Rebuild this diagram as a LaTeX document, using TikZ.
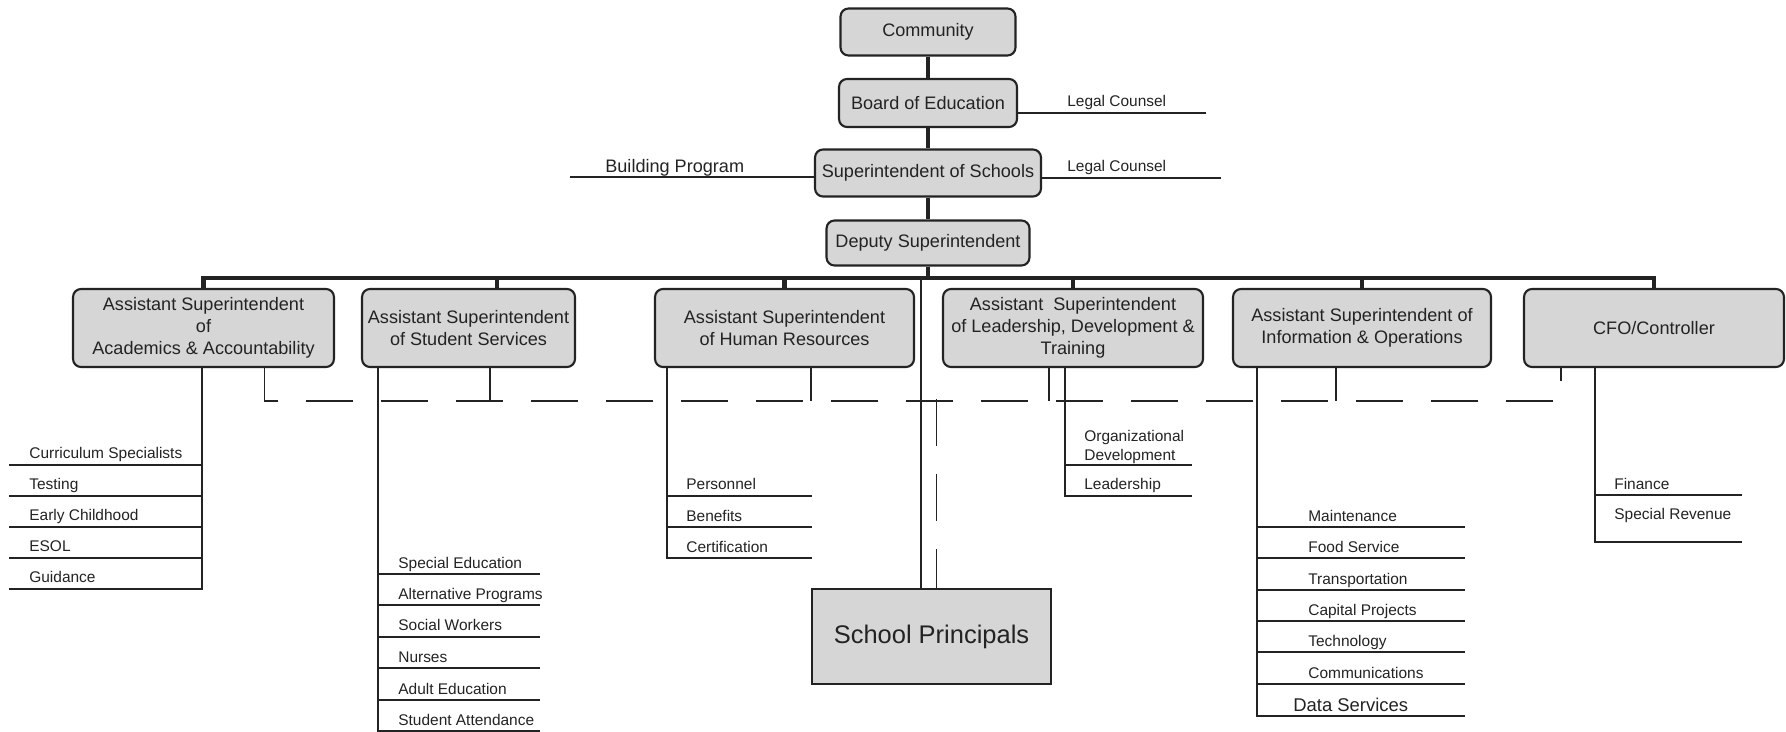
\documentclass[tikz,border=0pt]{standalone}
\usepackage{fontspec}
\setmainfont{Liberation Sans}
\usetikzlibrary{calc}
\definecolor{orgink}{RGB}{35,35,35}
\definecolor{orgfill}{RGB}{214,214,214}

\begin{document}
\begin{tikzpicture}[
    x=0.02cm, y=-0.02cm,
    every node/.style={text=orgink},
    box/.style={draw=orgink, line width=1.2pt, rounded corners=1.6mm, fill=orgfill, align=center, inner sep=0pt, font=\fontsize{10.3}{12.4}\selectfont},
    asst/.style={box, minimum height=1.56cm},
    item/.style={anchor=west, inner sep=0pt, align=left, text height=0.72em, text depth=0pt, font=\fontsize{8.8}{10.8}\selectfont},
    spine/.style={line width=2.3pt, orgink},
    link/.style={line width=0.9pt, orgink},
    rule/.style={line width=1.1pt, orgink},
    dashlink/.style={line width=1pt, orgink, dash pattern=on 0.94cm off 0.56cm}
  ]
  \useasboundingbox (0,0) rectangle (1786,732);

  % top of the chart
  \node[box, minimum width=3.5cm, minimum height=0.94cm] (community) at (928,32) {Community};
  \node[box, minimum width=3.56cm, minimum height=0.96cm] (board) at (928,103) {Board of Education};
  \node[box, minimum width=4.52cm, minimum height=0.94cm] (supt) at (928,173) {Superintendent of Schools};
  \node[box, minimum width=4.06cm, minimum height=0.9cm] (deputy) at (928,243) {Deputy Superintendent};
  \coordinate (bus) at (928,278);

  \node[item] (legal1) at (1067,100) {Legal Counsel};
  \node[item] (legal2) at (1067,165) {Legal Counsel};
  \node[item, font=\fontsize{10.3}{12}\selectfont] (building) at (605,166) {Building Program};
  \coordinate (legal1end) at (1206,113);
  \coordinate (legal2end) at (1221,178);
  \coordinate (buildend) at (570,177);

  \draw[spine] (community) -- (board);
  \draw[spine] (board) -- (supt);
  \draw[spine] (supt) -- (deputy);
  \draw[spine] (deputy) -- (bus);
  \draw[rule] (board.east |- legal1end) -- (legal1end);
  \draw[rule] (supt.east |- legal2end) -- (legal2end);
  \draw[rule] (supt.west |- buildend) -- (buildend);

  % assistant superintendents
  \node[asst, minimum width=5.22cm] (academics) at (203.5,328) {Assistant Superintendent\\of\\Academics \& Accountability};
  \node[asst, minimum width=4.26cm] (students) at (468.5,328) {Assistant Superintendent\\of Student Services};
  \node[asst, minimum width=5.18cm] (hr) at (784.5,328) {Assistant Superintendent\\of Human Resources};
  \node[asst, minimum width=5.2cm] (leadership) at (1073,328) {Assistant\ \ Superintendent\\of Leadership, Development \&\\Training};
  \node[asst, minimum width=5.16cm] (infoops) at (1362,328) {Assistant Superintendent of\\Information \& Operations};
  \node[asst, minimum width=5.2cm] (cfo) at (1654,328) {CFO/Controller};

  \draw[spine] (academics.north) |- (bus) -| (cfo.north);
  \draw[spine] ($(students.north)+(28.5,0)$) -- ++(0,-11);
  \draw[spine] (hr.north) -- (hr.north |- bus);
  \draw[spine] (leadership.north) -- (leadership.north |- bus);
  \draw[spine] (infoops.north) -- (infoops.north |- bus);

  % dashed coordination line
  \draw[dashlink] ($(academics.south)+(61,0)$) |- ($(cfo.south)+(-93,33)$) -- ($(cfo.south)+(-93,0)$);
  \draw[link] ($(students.south)+(21.5,0)$) -- ++(0,33);
  \draw[link] ($(hr.south)+(26.5,0)$) -- ++(0,33);
  \draw[link] ($(leadership.south)+(-24,0)$) -- ++(0,33);
  \draw[link] ($(infoops.south)+(-26,0)$) -- ++(0,33);

  % school principals
  \node[box, rounded corners=0pt, minimum width=4.78cm, minimum height=1.9cm, font=\fontsize{14.5}{17}\selectfont] (principals) at (931.5,636.5) {School Principals};
  \draw[link] ($(principals.north)+(-10.5,0)$) |- (bus);
  \draw[dashlink] ($(principals.north)+(5,-189)$) -- ($(principals.north)+(5,0)$);

  % departments
  \draw[link] ($(academics.south)+(-1.5,0)$) -- ++(0,222);
  \draw[link] ($(students.south)+(-90.5,0)$) -- ++(0,364);
  \draw[link] ($(hr.south)+(-117.5,0)$) -- ++(0,191);
  \draw[link] ($(leadership.south)+(-8,0)$) -- ++(0,129);
  \draw[link] ($(infoops.south)+(-105,0)$) -- ++(0,349);
  \draw[link] ($(cfo.south)+(-59,0)$) -- ++(0,175);

  \node[item] (curric) at (29,452) {Curriculum Specialists};
  \node[item] (testing) at (29,483) {Testing};
  \node[item] (early) at (29,514) {Early Childhood};
  \node[item] (esol) at (29,545) {ESOL};
  \node[item] (guidance) at (29,576) {Guidance};
  \draw[rule] (9,465) -- (202,465) (9,496) -- (202,496) (9,527) -- (202,527) (9,558) -- (202,558) (9,589) -- (202,589);

  \node[item] (sped) at (398,562) {Special Education};
  \node[item] (altprog) at (398,593) {Alternative Programs};
  \node[item] (social) at (398,624) {Social Workers};
  \node[item] (nurses) at (398,656) {Nurses};
  \node[item] (adulted) at (398,688) {Adult Education};
  \node[item] (attend) at (398,719) {Student Attendance};
  \draw[rule] (378,574) -- (540,574) (378,605) -- (540,605) (378,637) -- (540,637) (378,668) -- (540,668) (378,700) -- (540,700) (378,731) -- (540,731);

  \node[item] (personnel) at (686,483) {Personnel};
  \node[item] (benefits) at (686,515) {Benefits};
  \node[item] (certif) at (686,546) {Certification};
  \draw[rule] (667,496) -- (812,496) (667,527) -- (812,527) (667,558) -- (812,558);

  \node[item, text height={}, text depth={}] (orgdev) at (1084,447) {Organizational\\Development};
  \node[item] (leadersh) at (1084,483) {Leadership};
  \draw[rule] (1065,465) -- (1192,465) (1065,496) -- (1192,496);

  \node[item] (maint) at (1308,515) {Maintenance};
  \node[item] (food) at (1308,546) {Food Service};
  \node[item] (transp) at (1308,578) {Transportation};
  \node[item] (capital) at (1308,609) {Capital Projects};
  \node[item] (tech) at (1308,640) {Technology};
  \node[item] (comms) at (1308,672) {Communications};
  \node[item, font=\fontsize{10.5}{12}\selectfont] (data) at (1293,705) {Data Services};
  \draw[rule] (1257,527) -- (1465,527) (1257,558) -- (1465,558) (1257,590) -- (1465,590) (1257,621) -- (1465,621) (1257,652) -- (1465,652) (1257,684) -- (1465,684) (1257,716) -- (1465,716);

  \node[item] (finance) at (1614,483) {Finance};
  \node[item] (specrev) at (1614,513) {Special Revenue};
  \draw[rule] (1595,495) -- (1742,495) (1595,542) -- (1742,542);
\end{tikzpicture}
\end{document}
